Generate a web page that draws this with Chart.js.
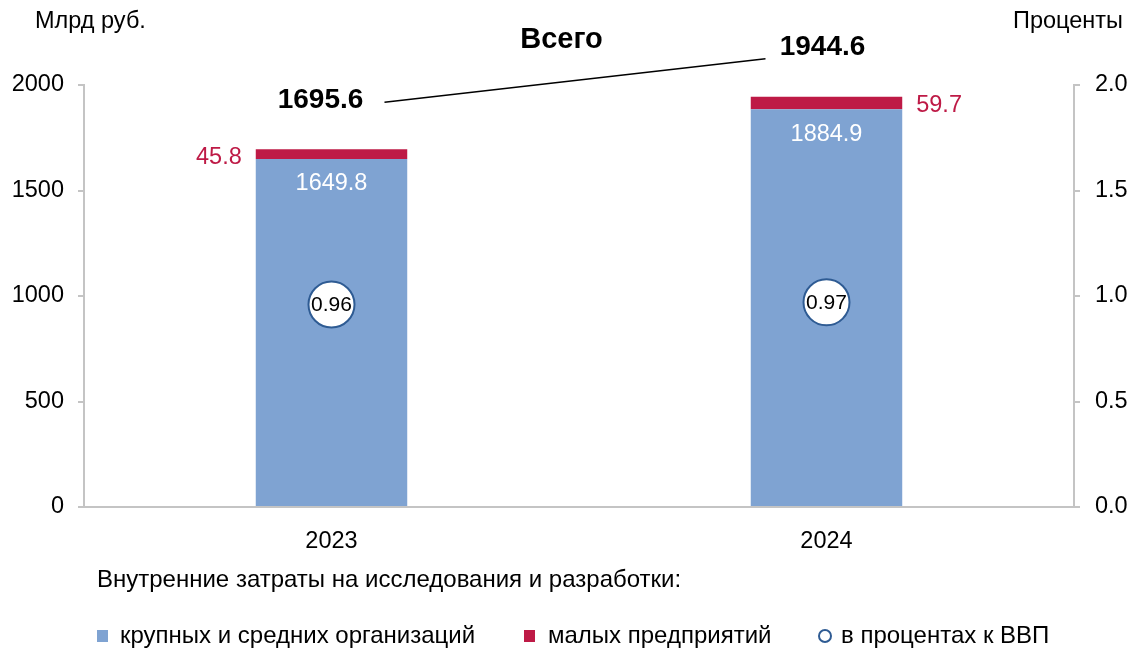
<!DOCTYPE html>
<html>
<head>
<meta charset="utf-8">
<script src="https://cdn.jsdelivr.net/npm/chart.js@4"></script>
<style>
  body { margin: 0; background: #fff; }
  #wrap { width: 1129px; height: 648px; }
</style>
</head>
<body>
<div id="wrap"><canvas id="myChart1" width="1129" height="648"></canvas></div>
<script>
var years = ['2023', '2024'];
var bigOrgs = [1649.8, 1884.9];
var smallOrgs = [45.8, 59.7];
var totals = [1695.6, 1944.6];
var gdpShare = [0.96, 0.97];
var leftTicks = [0, 500, 1000, 1500, 2000];
var rightTicks = [0, 0.5, 1, 1.5, 2];

var FONT = '"Liberation Sans", Arial, sans-serif';
var FS = 23.5;
var BLUE = '#7fa3d2';
var RED = '#be1a46';
var RING = '#2e5b93';
var GRID = '#c4c4c4';

Chart.defaults.font.family = FONT;
Chart.defaults.color = '#000';

var labelsPlugin = {
    id: 'labelsPlugin',
    afterDatasetsDraw: function(chart){
        var ctx = chart.ctx;
        var y = chart.scales.y;
        var blue = chart.getDatasetMeta(0).data;
        var red = chart.getDatasetMeta(1).data;
        var dots = chart.getDatasetMeta(2).data;
        ctx.save();
        ctx.textBaseline = 'middle';
        // values inside blue bars
        ctx.font = FS + 'px ' + FONT;
        ctx.fillStyle = '#fff';
        ctx.textAlign = 'center';
        blue.forEach(function(b, i){
            ctx.fillText(bigOrgs[i].toFixed(1), b.x, b.y + 25);
        });
        // small enterprises labels
        ctx.fillStyle = RED;
        red.forEach(function(b, i){
            var mid = (b.y + b.base) / 2 + 3;
            if (i === 0) {
                ctx.textAlign = 'right';
                ctx.fillText(smallOrgs[i].toFixed(1), b.x - b.width / 2 - 14, mid);
            } else {
                ctx.textAlign = 'left';
                ctx.fillText(smallOrgs[i].toFixed(1), b.x + b.width / 2 + 14, mid);
            }
        });
        // circle labels
        ctx.fillStyle = '#000';
        ctx.textAlign = 'center';
        ctx.font = '21px ' + FONT;
        dots.forEach(function(p, i){
            ctx.fillText(gdpShare[i].toFixed(2), p.x, p.y + 1);
        });
        // totals
        ctx.font = 'bold 28px ' + FONT;
        var t0x = red[0].x - 11, t0y = y.getPixelForValue(totals[0]) - 49;
        var t1x = red[1].x - 4, t1y = y.getPixelForValue(totals[1]) - 49;
        ctx.fillText(totals[0].toFixed(1), t0x, t0y);
        ctx.fillText(totals[1].toFixed(1), t1x, t1y);
        ctx.strokeStyle = '#000';
        ctx.lineWidth = 1.5;
        ctx.beginPath();
        ctx.moveTo(t0x + 64, t0y + 2);
        ctx.lineTo(t1x - 57, t1y + 11);
        ctx.stroke();
        ctx.font = 'bold 29px ' + FONT;
        ctx.fillText('Всего', (t0x + t1x) / 2 - 10, 40);
        ctx.restore();
    },
    afterDraw: function(chart){
        var ctx = chart.ctx;
        ctx.save();
        ctx.fillStyle = '#000';
        ctx.textBaseline = 'middle';
        ctx.font = FS + 'px ' + FONT;
        ctx.textAlign = 'left';
        ctx.fillText('Млрд руб.', 35, 22);
        ctx.textAlign = 'right';
        ctx.fillText('Проценты', 1123, 22);
        ctx.textAlign = 'left';
        ctx.font = '24px ' + FONT;
        ctx.fillText('Внутренние затраты на исследования и разработки:', 97, 580);
        // legend
        var ly = 636;
        ctx.fillStyle = BLUE;
        ctx.fillRect(97, ly - 6, 11, 12);
        ctx.fillStyle = '#000';
        ctx.fillText('крупных и средних организаций', 120, ly);
        ctx.fillStyle = RED;
        ctx.fillRect(524, ly - 6, 11, 12);
        ctx.fillStyle = '#000';
        ctx.fillText('малых предприятий', 548, ly);
        ctx.strokeStyle = RING;
        ctx.lineWidth = 2;
        ctx.beginPath();
        ctx.arc(825, ly, 6, 0, Math.PI * 2);
        ctx.stroke();
        ctx.fillText('в процентах к ВВП', 841, ly);
        ctx.restore();
    }
};

document.addEventListener('DOMContentLoaded', function(){
    var data = {
        labels: years,
        datasets: [{
            label: 'крупных и средних организаций',
            data: bigOrgs,
            backgroundColor: BLUE,
            yAxisID: 'y',
            order: 1,
            barPercentage: 0.306,
            categoryPercentage: 1
        }, {
            label: 'малых предприятий',
            data: smallOrgs,
            backgroundColor: RED,
            yAxisID: 'y',
            order: 1,
            barPercentage: 0.306,
            categoryPercentage: 1
        }, {
            type: 'line',
            label: 'в процентах к ВВП',
            data: gdpShare,
            yAxisID: 'y1',
            order: 0,
            showLine: false,
            pointRadius: 23,
            pointBackgroundColor: '#fff',
            pointBorderColor: RING,
            pointBorderWidth: 2
        }]
    };
    var options = {
        responsive: false,
        animation: false,
        layout: { padding: { top: 85, bottom: 0, left: 0, right: 0 } },
        plugins: {
            legend: { display: false },
            tooltip: { enabled: false }
        },
        scales: {
            x: {
                stacked: true,
                grid: { display: false, drawTicks: false },
                border: { color: GRID, width: 2 },
                ticks: { font: { size: FS }, color: '#000', padding: 20 },
                afterFit: function(s){ s.height = 141; }
            },
            y: {
                stacked: true,
                position: 'left',
                min: 0, max: 2000,
                afterBuildTicks: function(s){ s.ticks = leftTicks.map(function(v){ return { value: v }; }); },
                grid: { drawOnChartArea: false, tickLength: 6, color: GRID, lineWidth: 2 },
                border: { color: GRID, width: 2 },
                ticks: { font: { size: FS }, color: '#000', padding: 14,
                    callback: function(v){ return String(v); } },
                afterFit: function(s){ s.width = 84; }
            },
            y1: {
                position: 'right',
                min: 0, max: 2,
                afterBuildTicks: function(s){ s.ticks = rightTicks.map(function(v){ return { value: v }; }); },
                grid: { drawOnChartArea: false, tickLength: 6, color: GRID, lineWidth: 2 },
                border: { color: GRID, width: 2 },
                ticks: { font: { size: FS }, color: '#000', padding: 15,
                    callback: function(v){ return Number(v).toFixed(1); } },
                afterFit: function(s){ s.width = 55; }
            }
        }
    };
    var ctx = document.getElementById('myChart1').getContext('2d');
    var myChart1 = new Chart(ctx, {
        type: 'bar',
        data: data,
        options: options,
        plugins: [labelsPlugin]
    });
});
</script>
</body>
</html>
